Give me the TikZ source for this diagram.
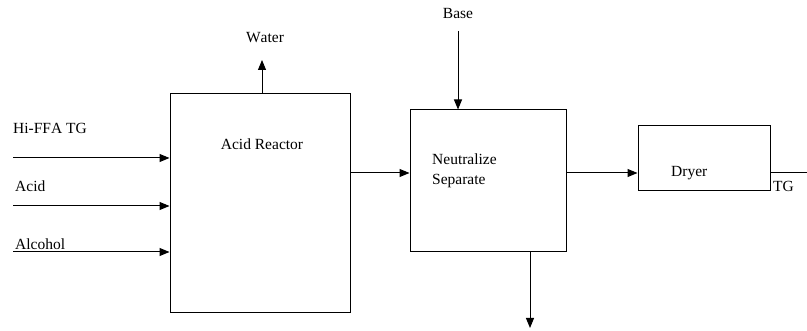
\documentclass[tikz,border=0pt]{standalone}
\usepackage{fontspec}
\setmainfont[Kerning=Off]{Liberation Serif}
\usetikzlibrary{arrows.meta}
\begin{document}
\begin{tikzpicture}[x=1pt,y=-1pt,
  unit/.style={draw=black,line width=1pt,minimum width=#1,inner sep=0pt},
  flow/.style={line width=1pt,-{Triangle[length=10pt,width=8pt]}},
  lbl/.style={inner sep=0pt,font=\fontsize{15.5}{18}\selectfont}]
\useasboundingbox (0,0) rectangle (807,331);
% process units
\node[unit=180pt,minimum height=219pt] (reactor) at (260,203.5) {};
\node[unit=156pt,minimum height=142pt] (neut) at (488,181) {};
\node[unit=132pt,minimum height=65pt] (dryer) at (704,158.5) {};
% unit labels
\node[lbl,anchor=base] (tr) at (262,150) {Acid Reactor};
\node[lbl,anchor=base west] (tn1) at (432,165) {Neutralize};
\node[lbl,anchor=base west] (tn2) at (432,185) {Separate};
\node[lbl,anchor=base west] (td) at (671,177) {Dryer};
% feed streams
\coordinate (f1) at (13,158);
\coordinate (f2) at (13,206);
\coordinate (f3) at (13,252);
\node[lbl,anchor=base west] (l1) at (13,134) {Hi-FFA TG};
\node[lbl,anchor=base west] (l2) at (15,192) {Acid};
\node[lbl,anchor=base west] (l3) at (15,250) {Alcohol};
\draw[flow] (f1) -- (f1 -| reactor.west);
\draw[flow] (f2) -- (f2 -| reactor.west);
\draw[flow] (f3) -- (f3 -| reactor.west);
% water off the reactor
\coordinate (w) at (262,60);
\node[lbl,anchor=base] (lw) at (265,43) {Water};
\draw[flow] (reactor.north -| w) -- (w);
% reactor to neutralizer to dryer
\coordinate (m) at (0,173);
\draw[flow] (reactor.east |- m) -- (neut.west |- m);
\draw[flow] (neut.east |- m) -- (dryer.west |- m);
% base feed
\coordinate (b) at (458,31);
\node[lbl,anchor=base] (lb) at (458,19) {Base};
\draw[flow] (b) -- (neut.north -| b);
% bottoms
\coordinate (o) at (530,328);
\draw[flow] (neut.south -| o) -- (o);
% product
\coordinate (p) at (807,173);
\draw[line width=1pt] (dryer.east |- p) -- (p);
\node[lbl,anchor=base west] (lt) at (773,192) {TG};
\end{tikzpicture}
\end{document}
